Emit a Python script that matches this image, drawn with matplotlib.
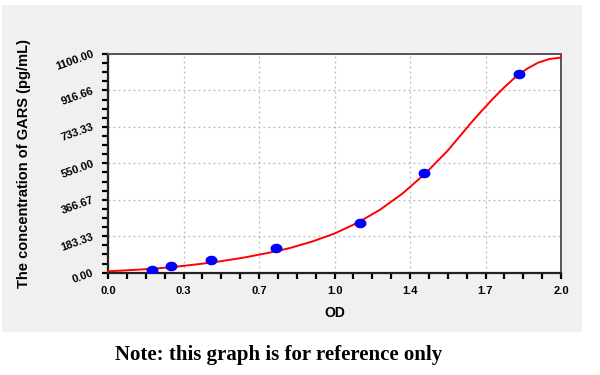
import matplotlib
matplotlib.use('Agg')
import numpy as np
import matplotlib.pyplot as plt
from matplotlib.ticker import FixedLocator

# standards (OD vs concentration)
od_points   = [0.196, 0.277, 0.453, 0.740, 1.114, 1.395, 1.816]
conc_points = [15.6, 31.25, 62.5, 125, 250, 500, 1000]

# fitted curve
curve_od   = [0.0, 0.1, 0.2, 0.3, 0.4, 0.5, 0.6, 0.7, 0.8, 0.9, 1.0,
              1.1, 1.2, 1.3, 1.4, 1.5, 1.55, 1.6, 1.65, 1.7, 1.75,
              1.8, 1.85, 1.9, 1.95, 2.0]
curve_conc = [7, 13, 20, 30, 43, 58, 76, 98, 123, 156, 197,
              250, 316, 398, 498, 614, 682, 750, 814, 876, 933,
              985, 1026, 1057, 1075, 1082]

x_ticks = [0, 2/6, 4/6, 1.0, 8/6, 10/6, 2.0]
x_labels = ['0.0', '0.3', '0.7', '1.0', '1.4', '1.7', '2.0']
y_ticks = [0, 1100/6, 2200/6, 550, 4400/6, 5500/6, 1100]
y_labels = ['0.00', '183.33', '366.67', '550.00', '733.33', '916.66', '1100.00']

plt.rcParams['font.family'] = ['Liberation Sans', 'DejaVu Sans']

fig = plt.figure(figsize=(6, 3.75), dpi=100, facecolor='white')
bg = fig.add_axes([2/600, 1 - 332/375, 580/600, 327/375], zorder=0)
bg.set_facecolor('#f0f0f0')
bg.set_xticks([])
bg.set_yticks([])
for s in bg.spines.values():
    s.set_visible(False)

ax = fig.add_axes([108/600, 1 - 272.7/375, 453/600, 218.7/375], zorder=2)
ax.set_facecolor('white')

# slightly flattened dot, like the original
t = np.linspace(0, 2 * np.pi, 40)
dot = list(zip(np.cos(t), 0.8 * np.sin(t)))

ax.plot(curve_od, curve_conc, color='#ff0000', lw=1.4, zorder=3, clip_on=False,
        solid_joinstyle='round')
ax.plot(od_points, conc_points, linestyle='none', marker=dot, color='#0000ff',
        markersize=8.6, markeredgewidth=0, zorder=4)

ax.set_xlim(0, 2.0)
ax.set_ylim(0, 1100)
ax.set_xticks(x_ticks)
ax.set_xticklabels(x_labels, fontsize=8, fontweight='bold')
ax.set_yticks(y_ticks)
ax.set_yticklabels(y_labels, fontsize=8, fontweight='bold', rotation=20,
                   rotation_mode='anchor', ha='right', va='center')

minor_x = [i * 2 / 24 for i in range(25)]
minor_y = [i * 1100 / 24 for i in range(25)]
ax.xaxis.set_minor_locator(FixedLocator(minor_x))
ax.yaxis.set_minor_locator(FixedLocator(minor_y))
ax.tick_params(which='both', bottom=True, left=True, direction='out',
               length=4.5, width=1.6, color='black')
ax.tick_params(axis='x', which='major', pad=5)
ax.tick_params(axis='y', which='major', pad=6)

ax.grid(True, which='major', color='#b8b8b8', linestyle=(0, (1.5, 2.5)), lw=0.9)
for side in ['left', 'bottom']:
    ax.spines[side].set_color('#222222')
    ax.spines[side].set_linewidth(1.6)
for side in ['top', 'right']:
    ax.spines[side].set_color('#555555')
    ax.spines[side].set_linewidth(1.4)

ax.set_xlabel('OD', fontsize=10, fontweight='bold')
ax.xaxis.set_label_coords(0.5, -(313 - 272.7) / 218.7)
ax.set_ylabel('The concentration of GARS (pg/mL)', fontsize=10.5,
              fontweight='bold')
ax.yaxis.set_label_coords(-(108 - 24) / 453, 0.5)
ax.yaxis.label.set_va('center')
ax.xaxis.label.set_va('center')

fig.text(279/600, 1 - 355/375, 'Note: this graph is for reference only',
         ha='center', va='center', fontsize=15, fontweight='bold',
         family=['Liberation Serif', 'DejaVu Serif'])

fig.savefig('out.png', dpi=100)
